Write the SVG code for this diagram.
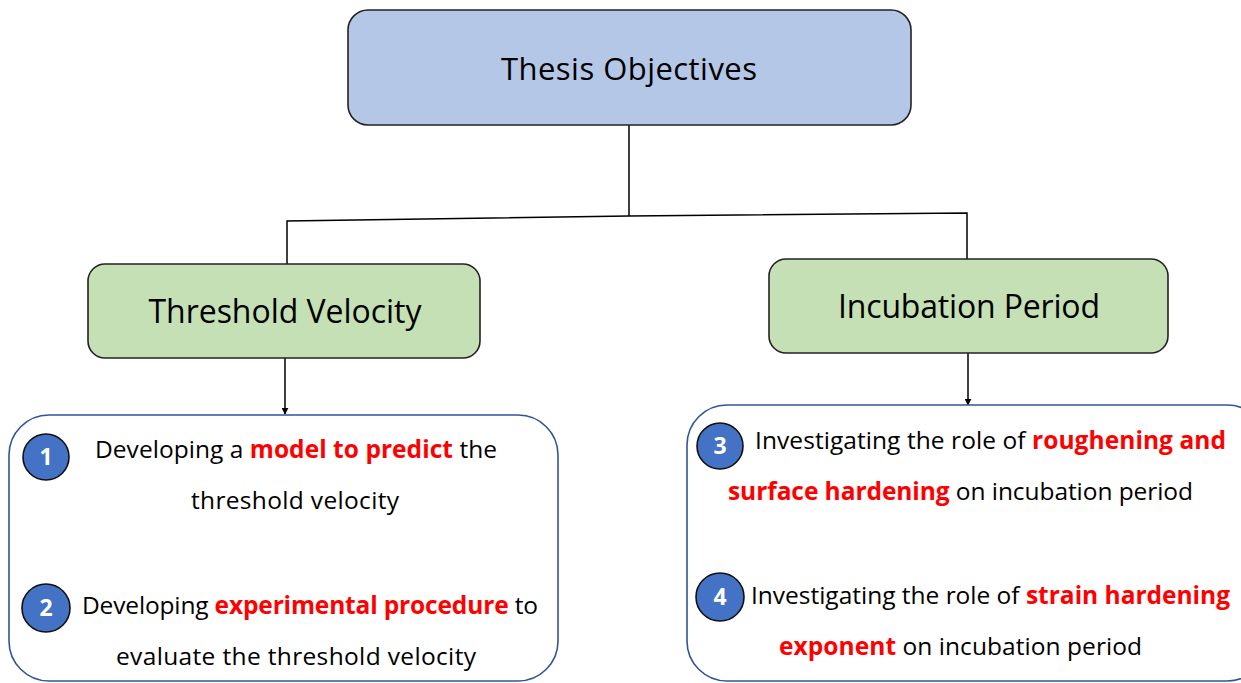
<svg xmlns="http://www.w3.org/2000/svg" width="1241" height="683" viewBox="0 0 1241 683">
  <defs>
    <marker id="arrow" viewBox="0 0 10 10" refX="9" refY="5" markerWidth="7" markerHeight="7" markerUnits="userSpaceOnUse" orient="auto">
      <path d="M0,0 L10,5 L0,10 z" fill="#000"/>
    </marker>
    <style>
      .t { font-family: "Open Sans", "Noto Sans", "Liberation Sans", sans-serif; fill: #000; }
      .title { font-size: 31px; }
      .head { font-size: 32px; }
      .body { font-size: 24.5px; }
      .hl { fill: #FF0000; font-weight: bold; }
      .num { font-family: "Open Sans", "Liberation Sans", sans-serif; font-size: 23px; font-weight: bold; fill: #fff; }
      .main { fill: #B4C7E7; stroke: #222; stroke-width: 1.6; }
      .sub { fill: #C5E0B4; stroke: #222; stroke-width: 1.6; }
      .panel { fill: #fff; stroke: #2F5597; stroke-width: 1.6; }
      .badge { fill: #4472C4; stroke: #111; stroke-width: 1.6; }
      .link { fill: none; stroke: #000; stroke-width: 1.5; }
    </style>
  </defs>
  <rect width="1241" height="683" fill="#fff"/>

  <!-- connectors -->
  <g id="connectors">
    <path class="link" d="M629,125 L629,216"/>
    <path class="link" d="M287,264 L287,221 L629,216 L967,213 L967,259"/>
    <path class="link" d="M285,358 L285,414" marker-end="url(#arrow)"/>
    <path class="link" d="M968,353 L968,405" marker-end="url(#arrow)"/>
  </g>

  <g id="thesis-objectives">
    <rect class="main" x="348" y="10" width="563" height="115" rx="20"/>
    <text class="t title" x="629" y="80" text-anchor="middle" textLength="256">Thesis Objectives</text>
  </g>

  <g id="threshold-velocity">
    <rect class="sub" x="88" y="264" width="392" height="94" rx="17"/>
    <text class="t head" x="285" y="323" text-anchor="middle" textLength="273">Threshold Velocity</text>
  </g>

  <g id="incubation-period">
    <rect class="sub" x="769" y="259" width="399" height="94" rx="17"/>
    <text class="t head" x="969" y="318" text-anchor="middle" textLength="262">Incubation Period</text>
  </g>

  <g id="threshold-objectives">
    <rect class="panel" x="9" y="415" width="549" height="266" rx="40"/>
    <circle class="badge" cx="46" cy="457" r="23"/>
    <text class="num" x="46" y="465" text-anchor="middle">1</text>
    <circle class="badge" cx="46" cy="608" r="24"/>
    <text class="num" x="46" y="616" text-anchor="middle">2</text>
    <text class="t body" x="95" y="458" textLength="402">Developing a <tspan class="hl">model to predict</tspan> the</text>
    <text class="t body" x="295" y="509" text-anchor="middle" textLength="208">threshold velocity</text>
    <text class="t body" x="82" y="614" textLength="456">Developing <tspan class="hl">experimental procedure</tspan> to</text>
    <text class="t body" x="116" y="665" textLength="360">evaluate the threshold velocity</text>
  </g>

  <g id="incubation-objectives">
    <rect class="panel" x="687" y="405" width="580" height="276" rx="40"/>
    <circle class="badge" cx="720" cy="446" r="23"/>
    <text class="num" x="720" y="454" text-anchor="middle">3</text>
    <circle class="badge" cx="720" cy="597" r="24"/>
    <text class="num" x="720" y="605" text-anchor="middle">4</text>
    <text class="t body" x="755" y="449" textLength="471">Investigating the role of <tspan class="hl">roughening and</tspan></text>
    <text class="t body" x="728" y="500" textLength="465"><tspan class="hl">surface hardening</tspan> on incubation period</text>
    <text class="t body" x="751" y="604" textLength="479">Investigating the role of <tspan class="hl">strain hardening</tspan></text>
    <text class="t body" x="779" y="655" textLength="363"><tspan class="hl">exponent</tspan> on incubation period</text>
  </g>
</svg>
